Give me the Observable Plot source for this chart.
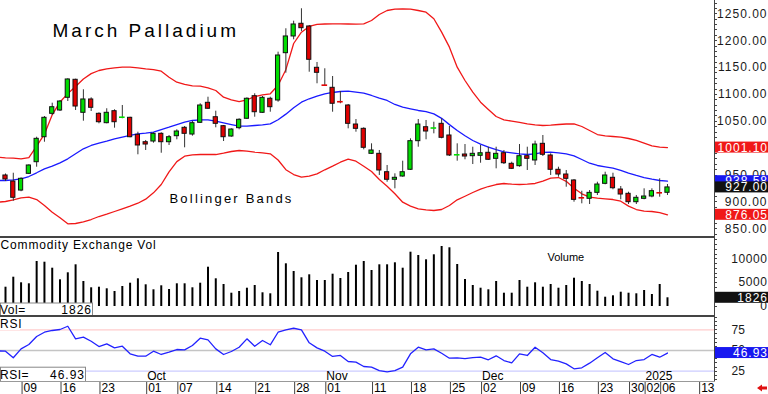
<!DOCTYPE html>
<html>
<head>
<meta charset="utf-8">
<script src="https://cdn.jsdelivr.net/npm/d3@7"></script>
<script src="https://cdn.jsdelivr.net/npm/@observablehq/plot@0.6"></script>
<style>
  html, body { margin: 0; padding: 0; background: #fff; }
  #chart { width: 768px; height: 394px; overflow: hidden; background: #fff; }
  #chart svg { display: block; max-width: none; }
</style>
</head>
<body>
<div id="chart"></div>
<script>
// ---- Data ----
// trading-day index 0 = Sep 05 2024 ... 85 = Jan 07 2025
const dateTickIndex  = [2, 7, 12, 18, 22, 27, 32, 37, 41, 47, 52, 57, 61, 66, 71, 76, 80, 82, 84, 89];
const dateTickLabels = ["09","16","23","01","07","14","21","28","01","11","18","25","02","09","16","23","30","02","06","13"];
const monthIndex  = [18, 41, 61, 82];
const monthLabels = ["Oct", "Nov", "Dec", "2025"];

const openP = [949.2,938.0,921.2,952.3,973.9,1020.4,1063.9,1070.1,1093.7,1127.2,
1065.8,1090.6,1063.9,1046.5,1068.8,1056.6,1056.5,1024.9,1011.1,1012.4,
1026.7,1011.1,1022.3,1037.9,1025.4,1047.2,1084.4,1057.6,1040.9,1021.7,
1037.2,1054.7,1096.7,1065.8,1091.9,1088.7,1176.7,1207.8,1231.4,1226.4,
1149.5,1118.3,1112.3,1087.5,1079.4,1044.0,1036.0,989.5,989.5,955.3,
941.2,947.3,959.8,1013.0,1039.0,1036.5,1045.3,1023.6,986.8,988.2,
985.1,985.8,991.4,980.2,990.6,970.9,966.5,985.1,977.1,1008.1,
986.4,959.8,951.0,939.9,908.5,905.8,916.9,933.7,944.9,923.1,
915.1,899.5,905.8,910.1,918.0,917.0];
const highP = [952,953.4,945,969,1020.4,1058.9,1083.7,1088.7,1129.1,1128.3,
1108.6,1093.7,1065.8,1073.3,1071.4,1079.4,1057.5,1029.7,1014.3,1028.6,
1028.6,1023.6,1034.2,1040.3,1050.2,1082.6,1094.8,1068.8,1042.2,1036.0,
1054.7,1093.7,1101.2,1096.1,1094.8,1178.6,1222.1,1236.2,1259.3,1228.2,
1159.4,1147.7,1133.3,1105.4,1081.3,1053.3,1037.9,1008.1,995.7,967.8,
952.3,975.8,1017.4,1053.3,1051.5,1048.3,1054.7,1040.3,1008.1,1006.8,
1001.8,1005.0,1001.8,1001.8,995.7,973.9,1006.8,1001.8,1013.0,1023.6,
989.5,964.6,958.5,941.7,919.9,921.2,936.7,955.3,953.4,928.7,
918.1,912.0,924.4,924.4,943.0,932.4];
const lowP = [938,901.3,919,951,964.6,1011.1,1060.8,1068.2,1086.8,1070.1,
1050.2,1068.2,1045.3,1045.3,1037.2,1054.7,1019.3,987.7,995.7,1009.3,
990.6,1005.0,1015.6,1000.7,1022.3,1046.0,1072.0,1037.9,1012.4,1020.4,
1034.2,1053.3,1057.6,1064.7,1066.9,1085.5,1139.5,1201.6,1217.1,1141.3,
1119.8,1116.6,1066.9,1082.6,1036.0,1029.7,996.9,988.2,949.2,936.7,
924.4,946.0,958.5,1001.8,1015.6,1026.7,1017.4,984.5,975.8,978.4,
969.6,972.0,977.1,961.6,969.6,960.3,964.6,958.5,967.8,984.5,
949.2,946.0,927.4,899.5,896.5,895.2,912.0,931.9,922.6,904.0,
895.2,895.2,904.0,907.7,908.8,912.0];
const closeP = [941.8,907.7,943.0,967.8,1017.4,1056.5,1076.2,1086.8,1127.8,1077.5,
1090.6,1075.1,1048.3,1065.8,1048.3,1057.6,1020.4,1005.0,1006.8,1026.7,
1011.1,1020.4,1031.0,1026.7,1046.5,1079.4,1073.3,1045.3,1020.4,1034.7,
1052.8,1091.9,1066.9,1093.7,1076.2,1172.4,1207.8,1230.1,1223.2,1164.4,
1140.2,1117.2,1082.6,1086.4,1045.3,1036.0,1000.7,995.7,958.5,941.2,
944.9,955.3,1013.0,1044.0,1031.0,1037.5,1019.3,986.4,987.7,984.5,
989.5,990.6,978.4,989.5,972.0,961.6,985.1,980.2,1006.8,987.7,
959.8,951.0,943.0,903.9,907.7,916.9,932.4,949.2,925.5,913.8,
899.5,907.7,910.1,920.0,917.0,927.0];

// Bollinger bands, index -1 (left edge) ... 85
const upperBand = [983.2,982.0,981.4,980.2,982.6,1004,1026,1062,1086,1101.5,1114.7,
1128.7,1138.7,1144.5,1147.7,1149.5,1150.7,1150.7,1149.5,1147.7,1146.3,
1143.2,1132.0,1122.7,1118.5,1116.0,1115.3,1112.3,1107.3,1094.8,1090.0,
1086.8,1090.0,1096.1,1099.3,1101.2,1117,1146,1194.7,1215.8,1226.4,
1230.1,1231,1231.4,1231.4,1231,1230.7,1231.4,1237.5,1248.7,1256.1,
1258.6,1259.3,1258.6,1256.1,1253,1240.7,1215.8,1187.9,1150.7,1125.9,
1104.1,1085.5,1072,1058.9,1052.8,1050.2,1047.8,1045.3,1043.5,1042.2,
1042.7,1044,1045,1045.3,1040.3,1032.9,1025.4,1023.0,1021.7,1020.4,
1018.0,1014.3,1009.3,1004.4,1001.8,1001.1];
const middleBand = [939.9,939.9,941.2,943.0,947.3,954.2,961.6,966.5,972.8,980.2,989.5,
998.8,1005.0,1009.3,1013.0,1017.4,1020.4,1023.6,1026.7,1028.0,1029.7,
1034.7,1039.0,1044.0,1048.3,1051.5,1052.8,1052.8,1050.2,1047.2,1044.0,
1040.9,1040.9,1042.2,1043.5,1045.3,1052.8,1063.3,1075.1,1085.5,1091.9,
1096.7,1101.2,1103.6,1105.4,1106.0,1104.1,1102.3,1098.0,1093.0,1088.7,
1081.3,1076.2,1073.3,1070.1,1068.0,1063.8,1055.5,1043.8,1032.9,1023.0,
1014.3,1007.5,1001.8,997.2,993.2,991.4,989.5,988.2,989.5,992.0,
992.5,991.4,989.4,985.8,978.9,972.0,967.8,965.4,962.7,958.5,
953.4,949.2,945.4,942.3,939.9,938.58];
const lowerBand = [899.5,900.8,903.9,907.7,908.8,904.5,893.3,880.9,870.5,859.3,859.9,
863.0,867.3,872.9,877.2,882.2,887.2,892.2,897.6,905.2,916.9,
932.4,956.0,975.0,985.1,987.7,988.2,988.2,988.2,990.6,993.8,
995.7,994.4,992.5,991.4,989.5,978.0,960.0,951.0,946.0,947.9,
952.3,959.8,966.5,973.9,979.5,975.8,966.5,956.6,941.7,929.2,
915.1,899.5,892.2,887.2,885.3,884.1,885.9,893.3,903.9,910.6,
917.5,923.7,928.7,932.4,934.3,933.0,932.4,933.0,934.3,938.6,
944.2,945.4,938.3,925.5,915.1,908.8,906.9,905.8,904.5,901.3,
892.2,885.9,882.8,882.2,880.3,876.05];

const volume = [4045,6141,4968,4758,9432,9285,8028,5596,7064,8740,
5240,3920,4045,3710,3144,4192,4884,5806,4548,3500,
4339,3563,4758,4758,3920,4884,8237,5806,4611,2788,
3144,3836,4402,2872,2662,11318,8950,7336,6016,6644,
5450,5450,6770,5869,7126,8656,9432,7546,8740,8740,
9160,8028,11381,10690,9788,10836,12576,12304,8803,5659,
4402,3836,3500,5240,2788,2788,5450,4045,4968,4045,
4611,3836,4402,5932,5240,4611,3207,1949,2243,2997,
2788,2662,3354,2515,4611,1826];

// RSI, index -1 (left edge) ... 85
const rsi = [49.5,49.2,41.2,52.0,57.2,66.9,72.1,74.2,75.4,79.3,64.1,
66.1,61.2,54.8,58.1,53.2,55.2,46.0,43.1,43.1,49.2,
45.2,48.0,51.2,50.8,56.0,64.9,62.9,52.0,45.2,48.8,
54.0,64.1,55.2,62.1,56.9,72.1,75.0,76.9,75.0,59.3,
53.2,49.2,42.8,44.0,36.7,35.9,30.7,29.9,25.8,24.3,
25.8,29.9,46.0,54.0,50.8,52.0,46.7,40.7,41.2,40.3,
41.5,41.9,38.8,43.6,37.9,35.1,46.0,44.0,54.0,47.2,
39.1,37.1,33.9,27.9,29.1,34.7,41.2,47.6,40.0,36.7,
33.1,37.9,39.1,45.2,41.9,46.93];

const priceTicks = [850, 900, 950, 1000, 1050, 1100, 1150, 1200, 1250];
const volTicks = [0, 5000, 10000];
const rsiTicks = [25, 50, 75];

// ---- Derived tables ----
const candles = openP.map((o, i) => ({i, open: o, high: highP[i], low: lowP[i], close: closeP[i]}));
const isBody = d => Math.abs(d.close - d.open) >= 2;
const upBodies = candles.filter(d => isBody(d) && d.close > d.open);
const downBodies = candles.filter(d => isBody(d) && d.close <= d.open);
const upDoji = candles.filter(d => !isBody(d) && d.close > d.open);
const downDoji = candles.filter(d => !isBody(d) && d.close <= d.open);
const bands = upperBand.map((u, k) => ({i: k - 1, upper: u, middle: middleBand[k], lower: lowerBand[k]}));
const vols = volume.map((v, i) => ({i, v}));
const rsiRows = rsi.map((v, k) => ({i: k - 1, v}));
const dateRows = dateTickIndex.map((i, k) => ({i, label: dateTickLabels[k]}));
const monthRows = monthIndex.map((i, k) => ({i, label: monthLabels[k]}));
const last = a => a[a.length - 1];

// ---- Layout ----
const FONT = "'Liberation Sans', Arial, Helvetica, sans-serif";
const W = 768, AXIS_X = 714, STEP = 7.788, FIRST_X = 5;
const xOpts = {type: "linear", domain: [-FIRST_X / STEP, (AXIS_X - FIRST_X) / STEP], axis: null};
const baseStyle = {fontFamily: FONT, fontSize: "12px", background: "#fff", color: "#000"};
const frame = {width: W, marginLeft: 0, marginRight: W - AXIS_X, marginTop: 0, marginBottom: 0};
const RED = "#e00000", GREEN = "#00dd00", BAND_RED = "#f01818", BAND_BLUE = "#1a1aff";

function spaceText(svg, rules) {
  d3.select(svg).selectAll("text").each(function () {
    const t = this.textContent;
    for (const [re, ls] of rules) { if (re.test(t)) { this.setAttribute("letter-spacing", ls); break; } }
  });
}
function addLine(svg, x1, y1, x2, y2, stroke, w) {
  d3.select(svg).append("line").attr("x1", x1).attr("y1", y1).attr("x2", x2).attr("y2", y2)
    .attr("stroke", stroke).attr("stroke-width", w);
}
function minorTicks(svg, scale, values, h) {
  const g = d3.select(svg).append("g").attr("stroke", "#444").attr("stroke-width", 1);
  for (const v of values) {
    const y = Math.round(scale.apply(v)) + 0.5;
    if (y < 2 || y > h - 1) continue;
    g.append("line").attr("x1", AXIS_X).attr("x2", AXIS_X + 3).attr("y1", y).attr("y2", y);
  }
}
function valueBox(svg, y, fill, label) {
  const g = d3.select(svg).append("g");
  g.append("rect").attr("x", AXIS_X + 1).attr("y", y - 5.5).attr("width", W - AXIS_X - 1).attr("height", 11).attr("fill", fill);
  g.append("text").attr("x", W).attr("y", y).attr("dy", "0.37em").attr("text-anchor", "end")
    .attr("fill", "#fff").attr("font-family", FONT).attr("font-size", 12).attr("letter-spacing", 1).text(label);
}
function leftBox(svg, y0, y1, w, leftText, rightText) {
  const g = d3.select(svg).append("g").attr("font-family", FONT).attr("font-size", 12).attr("fill", "#000");
  g.append("rect").attr("x", 0.5).attr("y", y0 + 0.5).attr("width", w).attr("height", y1 - y0)
    .attr("fill", "#fff").attr("stroke", "#888");
  const cy = (y0 + y1) / 2 + 1;
  g.append("text").attr("x", 0).attr("y", cy).attr("dy", "0.37em").attr("text-anchor", "start").attr("letter-spacing", 0.5).text(leftText);
  g.append("text").attr("x", w).attr("y", cy).attr("dy", "0.37em").attr("text-anchor", "end").attr("letter-spacing", 1).text(rightText);
}

// ---- Main price panel ----
const mainPlot = Plot.plot({
  ...frame, height: 236,
  x: xOpts, y: {domain: [835.7, 1274.7], axis: null},
  style: baseStyle,
  marks: [
    Plot.text(priceTicks, {y: d => d, text: d => d.toFixed(2), frameAnchor: "right", dx: 53, textAnchor: "end", fill: "#1a1a1a"}),
    Plot.line(bands, {x: "i", y: "upper", stroke: BAND_RED, strokeWidth: 1.3}),
    Plot.line(bands, {x: "i", y: "lower", stroke: BAND_RED, strokeWidth: 1.3}),
    Plot.line(bands, {x: "i", y: "middle", stroke: BAND_BLUE, strokeWidth: 1.3}),
    Plot.ruleX(candles, {x: "i", y1: "low", y2: "high", stroke: "#333", strokeWidth: 1}),
    Plot.rect(upBodies, {x1: d => d.i - 0.27, x2: d => d.i + 0.27, y1: "open", y2: "close", fill: GREEN, stroke: "#111", strokeWidth: 1}),
    Plot.rect(downBodies, {x1: d => d.i - 0.27, x2: d => d.i + 0.27, y1: "open", y2: "close", fill: RED, stroke: "#111", strokeWidth: 1}),
    Plot.ruleY(upDoji, {y: "close", x1: d => d.i - 0.36, x2: d => d.i + 0.36, stroke: GREEN, strokeWidth: 1.6}),
    Plot.ruleY(downDoji, {y: "close", x1: d => d.i - 0.36, x2: d => d.i + 0.36, stroke: RED, strokeWidth: 1.6}),
    Plot.text(["March Palladium"], {text: d => d, frameAnchor: "top-left", dx: 52, dy: 30, lineAnchor: "middle", fontSize: 19}),
    Plot.text(["Bollinger Bands"], {text: d => d, frameAnchor: "top-left", dx: 169, dy: 198, lineAnchor: "middle", fontSize: 13})
  ]
});
spaceText(mainPlot, [[/^March/, 3], [/^Bollinger/, 2.2], [/^\d+\.\d\d$/, 1]]);
addLine(mainPlot, AXIS_X + 0.5, 0, AXIS_X + 0.5, 236, "#444", 1);
minorTicks(mainPlot, mainPlot.scale("y"), d3.range(840, 1280, 10), 236);
{
  const ys = mainPlot.scale("y");
  valueBox(mainPlot, ys.apply(last(middleBand)), "#1818f0", last(middleBand).toFixed(2));
  valueBox(mainPlot, ys.apply(last(closeP)), "#111", last(closeP).toFixed(2));
  valueBox(mainPlot, ys.apply(last(upperBand)), "#f01818", last(upperBand).toFixed(2));
  valueBox(mainPlot, ys.apply(last(lowerBand)), "#f01818", last(lowerBand).toFixed(2));
}

// ---- Volume panel ----
const volPlot = Plot.plot({
  ...frame, height: 79,
  x: xOpts, y: {domain: [-1886, 14672], axis: null},
  style: baseStyle,
  marks: [
    Plot.text(volTicks, {y: d => d, text: d => String(d), frameAnchor: "right", dx: 53, textAnchor: "end", fill: "#1a1a1a"}),
    Plot.ruleX(vols, {x: "i", y1: 0, y2: "v", stroke: "#000", strokeWidth: 2}),
    Plot.text(["Commodity Exchange Vol"], {text: d => d, frameAnchor: "top-left", dx: 0, dy: 8.5, lineAnchor: "middle"}),
    Plot.text(["Volume"], {text: d => d, frameAnchor: "top-left", dx: 547, dy: 20.5, lineAnchor: "middle", fontSize: 11})
  ]
});
spaceText(volPlot, [[/^Commodity/, 0.85], [/^Volume$/, 0], [/^\d+$/, 0.6]]);
addLine(volPlot, 0, 1, AXIS_X + 1, 1, "#444", 2);
addLine(volPlot, AXIS_X + 0.5, 0, AXIS_X + 0.5, 79, "#444", 1);
minorTicks(volPlot, volPlot.scale("y"), d3.range(0, 15000, 1000), 79);
valueBox(volPlot, volPlot.scale("y").apply(last(volume)), "#111", String(last(volume)));
leftBox(volPlot, 66.5, 79, 92, "Vol=", String(last(volume)));

// ---- RSI panel ----
const rsiPlot = Plot.plot({
  ...frame, height: 66,
  x: xOpts, y: {domain: [12.56, 92.3], axis: null},
  style: baseStyle,
  marks: [
    Plot.ruleY([rsiTicks[2]], {stroke: "#ffcccc", strokeWidth: 1.3}),
    Plot.ruleY([rsiTicks[1]], {stroke: "#c4c4c4", strokeWidth: 1.3}),
    Plot.ruleY([rsiTicks[0]], {stroke: "#ccccff", strokeWidth: 1.3}),
    Plot.text(rsiTicks, {y: d => d, text: d => String(d), frameAnchor: "right", dx: 17, textAnchor: "start", fill: "#1a1a1a"}),
    Plot.line(rsiRows, {x: "i", y: "v", stroke: "#2222ff", strokeWidth: 1.3}),
    Plot.text(monthRows, {x: "i", text: "label", frameAnchor: "bottom", dy: -5.5, dx: 1.5, textAnchor: "start", lineAnchor: "middle"})
  ]
});
addLine(rsiPlot, 0, 1, AXIS_X + 1, 1, "#444", 2);
addLine(rsiPlot, AXIS_X + 0.5, 0, AXIS_X + 0.5, 66, "#444", 1);
minorTicks(rsiPlot, rsiPlot.scale("y"), d3.range(15, 95, 5), 66);
{
  const g = d3.select(rsiPlot).append("g");
  g.append("rect").attr("x", 0).attr("y", 2).attr("width", 20).attr("height", 13).attr("fill", "#fff");
  g.append("text").attr("x", 0).attr("y", 8.7).attr("dy", "0.37em").attr("text-anchor", "start")
    .attr("font-family", FONT).attr("font-size", 12).attr("letter-spacing", 0.8).text("RSI");
}
valueBox(rsiPlot, rsiPlot.scale("y").apply(last(rsi)), "#1818f0", last(rsi).toFixed(2));
leftBox(rsiPlot, 51.7, 66, 85, "RSI=", last(rsi).toFixed(2));

// ---- Date axis ----
const datePlot = Plot.plot({
  ...frame, height: 13,
  x: xOpts, y: {domain: [0, 1], axis: null},
  style: baseStyle,
  marks: [
    Plot.ruleX(dateRows, {x: "i", dx: 1, stroke: "#444", strokeWidth: 1}),
    Plot.text(dateRows, {x: "i", text: "label", frameAnchor: "middle", dx: 2.5, dy: 0.5, textAnchor: "start", lineAnchor: "middle"})
  ]
});
addLine(datePlot, 0, 0.5, AXIS_X + 1, 0.5, "#999", 1);
d3.select(datePlot).append("polygon")
  .attr("points", "757,7 762,3.5 762,5.5 767,5.5 767,8.5 762,8.5 762,10.5")
  .attr("fill", "#e01010");

const chart = document.getElementById("chart");
chart.append(mainPlot, volPlot, rsiPlot, datePlot);
</script>
</body>
</html>
